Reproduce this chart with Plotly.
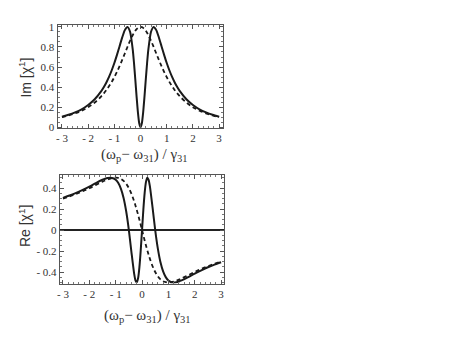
import plotly.graph_objects as go

# detuning (omega_p - omega_31)/gamma_31
x_vals = [-3, -2.75, -2.5, -2.25, -2, -1.75, -1.5, -1.4, -1.3, -1.2, -1.1, -1.0, -0.9, -0.8,
          -0.7, -0.6, -0.5, -0.4, -0.3, -0.25, -0.2, -0.15, -0.1, -0.05, 0,
          0.05, 0.1, 0.15, 0.2, 0.25, 0.3, 0.4, 0.5, 0.6, 0.7, 0.8, 0.9, 1.0, 1.1, 1.2,
          1.3, 1.4, 1.5, 1.75, 2, 2.25, 2.5, 2.75, 3]

im_solid = [0.105, 0.124, 0.148, 0.179, 0.222, 0.279, 0.36, 0.401, 0.449, 0.504, 0.568, 0.64,
            0.721, 0.808, 0.895, 0.968, 1.0, 0.952, 0.779, 0.64, 0.476, 0.303, 0.148, 0.039, 0.0,
            0.039, 0.148, 0.303, 0.476, 0.64, 0.779, 0.952, 1.0, 0.968, 0.895, 0.808, 0.721,
            0.64, 0.568, 0.504, 0.449, 0.401, 0.36, 0.279, 0.222, 0.179, 0.148, 0.124, 0.105]

im_dashed = [0.1, 0.117, 0.138, 0.165, 0.2, 0.246, 0.308, 0.338, 0.372, 0.410, 0.452, 0.5,
             0.552, 0.610, 0.671, 0.735, 0.8, 0.862, 0.917, 0.941, 0.962, 0.978, 0.990, 0.998, 1.0,
             0.998, 0.990, 0.978, 0.962, 0.941, 0.917, 0.862, 0.8, 0.735, 0.671, 0.610, 0.552,
             0.5, 0.452, 0.410, 0.372, 0.338, 0.308, 0.246, 0.2, 0.165, 0.138, 0.117, 0.1]

re_solid = [0.307, 0.330, 0.355, 0.384, 0.415, 0.449, 0.48, 0.490, 0.497, 0.5, 0.495, 0.48,
            0.449, 0.394, 0.307, 0.177, 0.0, -0.214, -0.415, -0.48, -0.499, -0.460, -0.355, -0.194, 0.0,
            0.194, 0.355, 0.460, 0.499, 0.48, 0.415, 0.214, 0.0, -0.177, -0.307, -0.394, -0.449,
            -0.48, -0.495, -0.5, -0.497, -0.490, -0.48, -0.449, -0.415, -0.384, -0.355, -0.330, -0.307]

re_dashed = [0.3, 0.321, 0.345, 0.371, 0.4, 0.431, 0.462, 0.473, 0.483, 0.492, 0.498, 0.5,
             0.497, 0.488, 0.470, 0.441, 0.4, 0.345, 0.275, 0.235, 0.192, 0.147, 0.099, 0.050, 0.0,
             -0.050, -0.099, -0.147, -0.192, -0.235, -0.275, -0.345, -0.4, -0.441, -0.470, -0.488, -0.497,
             -0.5, -0.498, -0.492, -0.483, -0.473, -0.462, -0.431, -0.4, -0.371, -0.345, -0.321, -0.3]

x_ticks = [-3, -2, -1, 0, 1, 2, 3]
x_ticktext = ["- 3", "- 2", "- 1", "0", "1", "2", "3"]
im_ticks = [0, 0.2, 0.4, 0.6, 0.8, 1]
im_ticktext = ["0", "0.2", "0.4", "0.6", "0.8", "1"]
re_ticks = [-0.4, -0.2, 0, 0.2, 0.4]
re_ticktext = ["- 0.4", "- 0.2", "0", "0.2", "0.4"]

LINE = "#1a1a1a"
FRAME = "#555555"
SERIF = "Liberation Serif"
SANS = "Liberation Sans"
DASH = "4px,3px"

fig = go.Figure()
fig.add_trace(go.Scatter(x=x_vals, y=im_dashed, mode="lines", line=dict(color=LINE, width=1.8, dash=DASH, shape="spline"),
                         xaxis="x", yaxis="y", showlegend=False))
fig.add_trace(go.Scatter(x=x_vals, y=im_solid, mode="lines", line=dict(color=LINE, width=2, shape="spline", smoothing=0.6),
                         xaxis="x", yaxis="y", showlegend=False))
fig.add_trace(go.Scatter(x=x_vals, y=re_dashed, mode="lines", line=dict(color=LINE, width=1.8, dash=DASH, shape="spline"),
                         xaxis="x2", yaxis="y2", showlegend=False))
fig.add_trace(go.Scatter(x=x_vals, y=re_solid, mode="lines", line=dict(color=LINE, width=2, shape="spline", smoothing=0.6),
                         xaxis="x2", yaxis="y2", showlegend=False))

common = dict(showgrid=False, showline=True, linecolor=FRAME, linewidth=1, mirror="allticks",
              ticks="inside", ticklen=4, tickcolor=FRAME,
              tickfont=dict(family=SERIF, size=11, color="#333333"))
minor = dict(ticks="inside", ticklen=2, tickcolor="#777777")

fig.update_layout(
    width=452, height=339, margin=dict(l=0, r=0, t=0, b=0),
    paper_bgcolor="white", plot_bgcolor="white",
    xaxis=dict(domain=[0.1217, 0.490], range=[-3.17, 3.13], tickvals=x_ticks, ticktext=x_ticktext,
               zeroline=False, anchor="y", minor=dict(dtick=0.2, **minor), **common),
    yaxis=dict(domain=[0.6254, 0.938], range=[-0.01, 1.015], tickvals=im_ticks, ticktext=im_ticktext,
               zeroline=False, anchor="x", minor=dict(dtick=0.05, **minor), **common),
    xaxis2=dict(domain=[0.1268, 0.4927], range=[-3.12, 3.1], tickvals=x_ticks, ticktext=x_ticktext,
                zeroline=False, anchor="y2", minor=dict(dtick=0.2, **minor), **common),
    yaxis2=dict(domain=[0.1534, 0.4847], range=[-0.51, 0.53], tickvals=re_ticks, ticktext=re_ticktext,
                zeroline=True, zerolinecolor="#222222", zerolinewidth=1.5, anchor="x2",
                minor=dict(dtick=0.05, **minor), **common),
)

xtitle = "(ω<sub>p</sub>− ω<sub>31</sub>) / γ<sub>31</sub>"
fig.add_annotation(text=xtitle, xref="paper", yref="paper", x=143 / 452, y=1 - 155 / 339,
                   xanchor="center", yanchor="middle",
                   showarrow=False, font=dict(family=SERIF, size=15, color="#333333"))
fig.add_annotation(text=xtitle, xref="paper", yref="paper", x=146 / 452, y=1 - 320 / 339,
                   xanchor="center", yanchor="middle",
                   showarrow=False, font=dict(family=SERIF, size=15, color="#333333"))
fig.add_annotation(text="Im [χ<sup>1</sup>]", xref="paper", yref="paper", x=22 / 452, y=1 - 75 / 339,
                   xanchor="center", yanchor="middle",
                   textangle=-90, showarrow=False, font=dict(family=SANS, size=14, color="#333333"))
fig.add_annotation(text="Re [χ<sup>1</sup>]", xref="paper", yref="paper", x=22 / 452, y=1 - 228 / 339,
                   xanchor="center", yanchor="middle",
                   textangle=-90, showarrow=False, font=dict(family=SANS, size=14, color="#333333"))

fig.write_html("out.html", config={"displayModeBar": False},
               post_script="document.body.style.margin='0';document.body.style.overflow='hidden';")
